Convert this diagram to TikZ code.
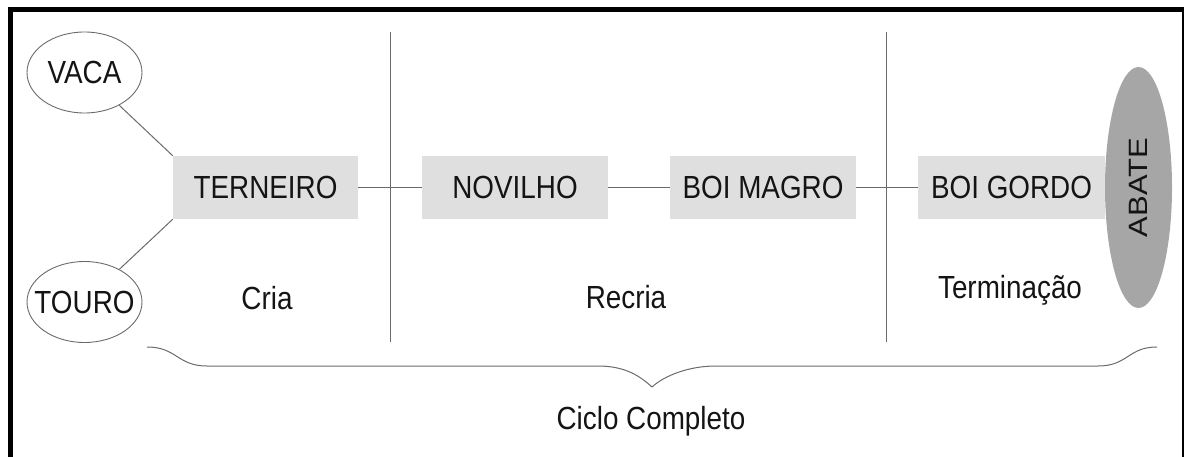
\documentclass[tikz,border=0pt]{standalone}
\usepackage{fontspec}
\setmainfont{Liberation Sans}[FakeStretch=0.87]
\newfontfamily\abatefont{Liberation Sans}[FakeStretch=1.17]
\usetikzlibrary{shapes.geometric}
\definecolor{boxgray}{HTML}{DFDFDF}
\definecolor{abategray}{HTML}{A6A6A6}
\definecolor{linegray}{HTML}{6A6A6A}
\definecolor{txt}{HTML}{141414}
\tikzset{
  lbl/.style={font=\fontsize{32}{36}\selectfont, text=txt, inner sep=0pt},
  parent/.style={lbl, ellipse, draw=linegray, line width=0.9pt, minimum width=115pt, minimum height=81pt},
  stage/.style={lbl, rectangle, fill=boxgray, minimum width=186pt, minimum height=63pt},
  conn/.style={draw=linegray, line width=1pt},
  phase/.style={lbl, anchor=base},
}
\begin{document}
\begin{tikzpicture}[x=1pt,y=-1pt]
\useasboundingbox (0,0) rectangle (1185,457);
% frame
\draw[line width=5pt, black] (10,460) -- (10,10) -- (1184,10);
\draw[line width=2pt, black] (1183,10) -- (1183,460);
% nodes
\node[parent] (vaca) at (84.5,72.5) {\makebox[60pt]{VACA}};
\node[parent] (touro) at (84.5,302) {\makebox[60pt]{TOURO}};
\node[stage, minimum width=185pt] (terneiro) at (265.5,187.5) {TERNEIRO};
\node[stage] (novilho) at (515,187.5) {NOVILHO};
\node[stage] (boimagro) at (763,187.5) {BOI MAGRO};
\node[stage, minimum width=187pt] (boigordo) at (1011.5,187.5) {BOI GORDO};
\node[ellipse, fill=abategray, minimum width=241pt, minimum height=67pt, inner sep=0pt,
      text=txt, rotate=90, font=\abatefont\fontsize{26.5}{30}\selectfont] (abate) at (1138.5,187.5) {ABATE};
% connectors
\draw[conn] (vaca) -- (terneiro.north west);
\draw[conn] (touro) -- (terneiro.south west);
\draw[conn] (terneiro) -- (novilho);
\draw[conn] (novilho) -- (boimagro);
\draw[conn] (boimagro) -- (boigordo);
% phase dividers
\coordinate (d1t) at (390,32); \coordinate (d1b) at (390,342);
\coordinate (d2t) at (886,32); \coordinate (d2b) at (886,342);
\draw[conn] (d1t) -- (d1b);
\draw[conn] (d2t) -- (d2b);
% phase labels
\node[phase] (cria) at (267,309) {Cria};
\node[phase] (recria) at (626,308) {Recria};
\node[phase] (term) at (1010,298) {Terminação};
% brace
\coordinate (bl) at (147,347);
\coordinate (br) at (1157,347);
\coordinate (bt) at (652,387);
\draw[conn] (bl) .. controls (177,347) and (177,366) .. (207,366) -- (598,366)
  .. controls (625,366) and (640,376) .. (bt)
  .. controls (664,376) and (688,366) .. (716,366) -- (1098,366)
  .. controls (1128,366) and (1128,347) .. (br);
\node[phase] (ciclo) at (651,429) {Ciclo Completo};
\end{tikzpicture}
\end{document}
